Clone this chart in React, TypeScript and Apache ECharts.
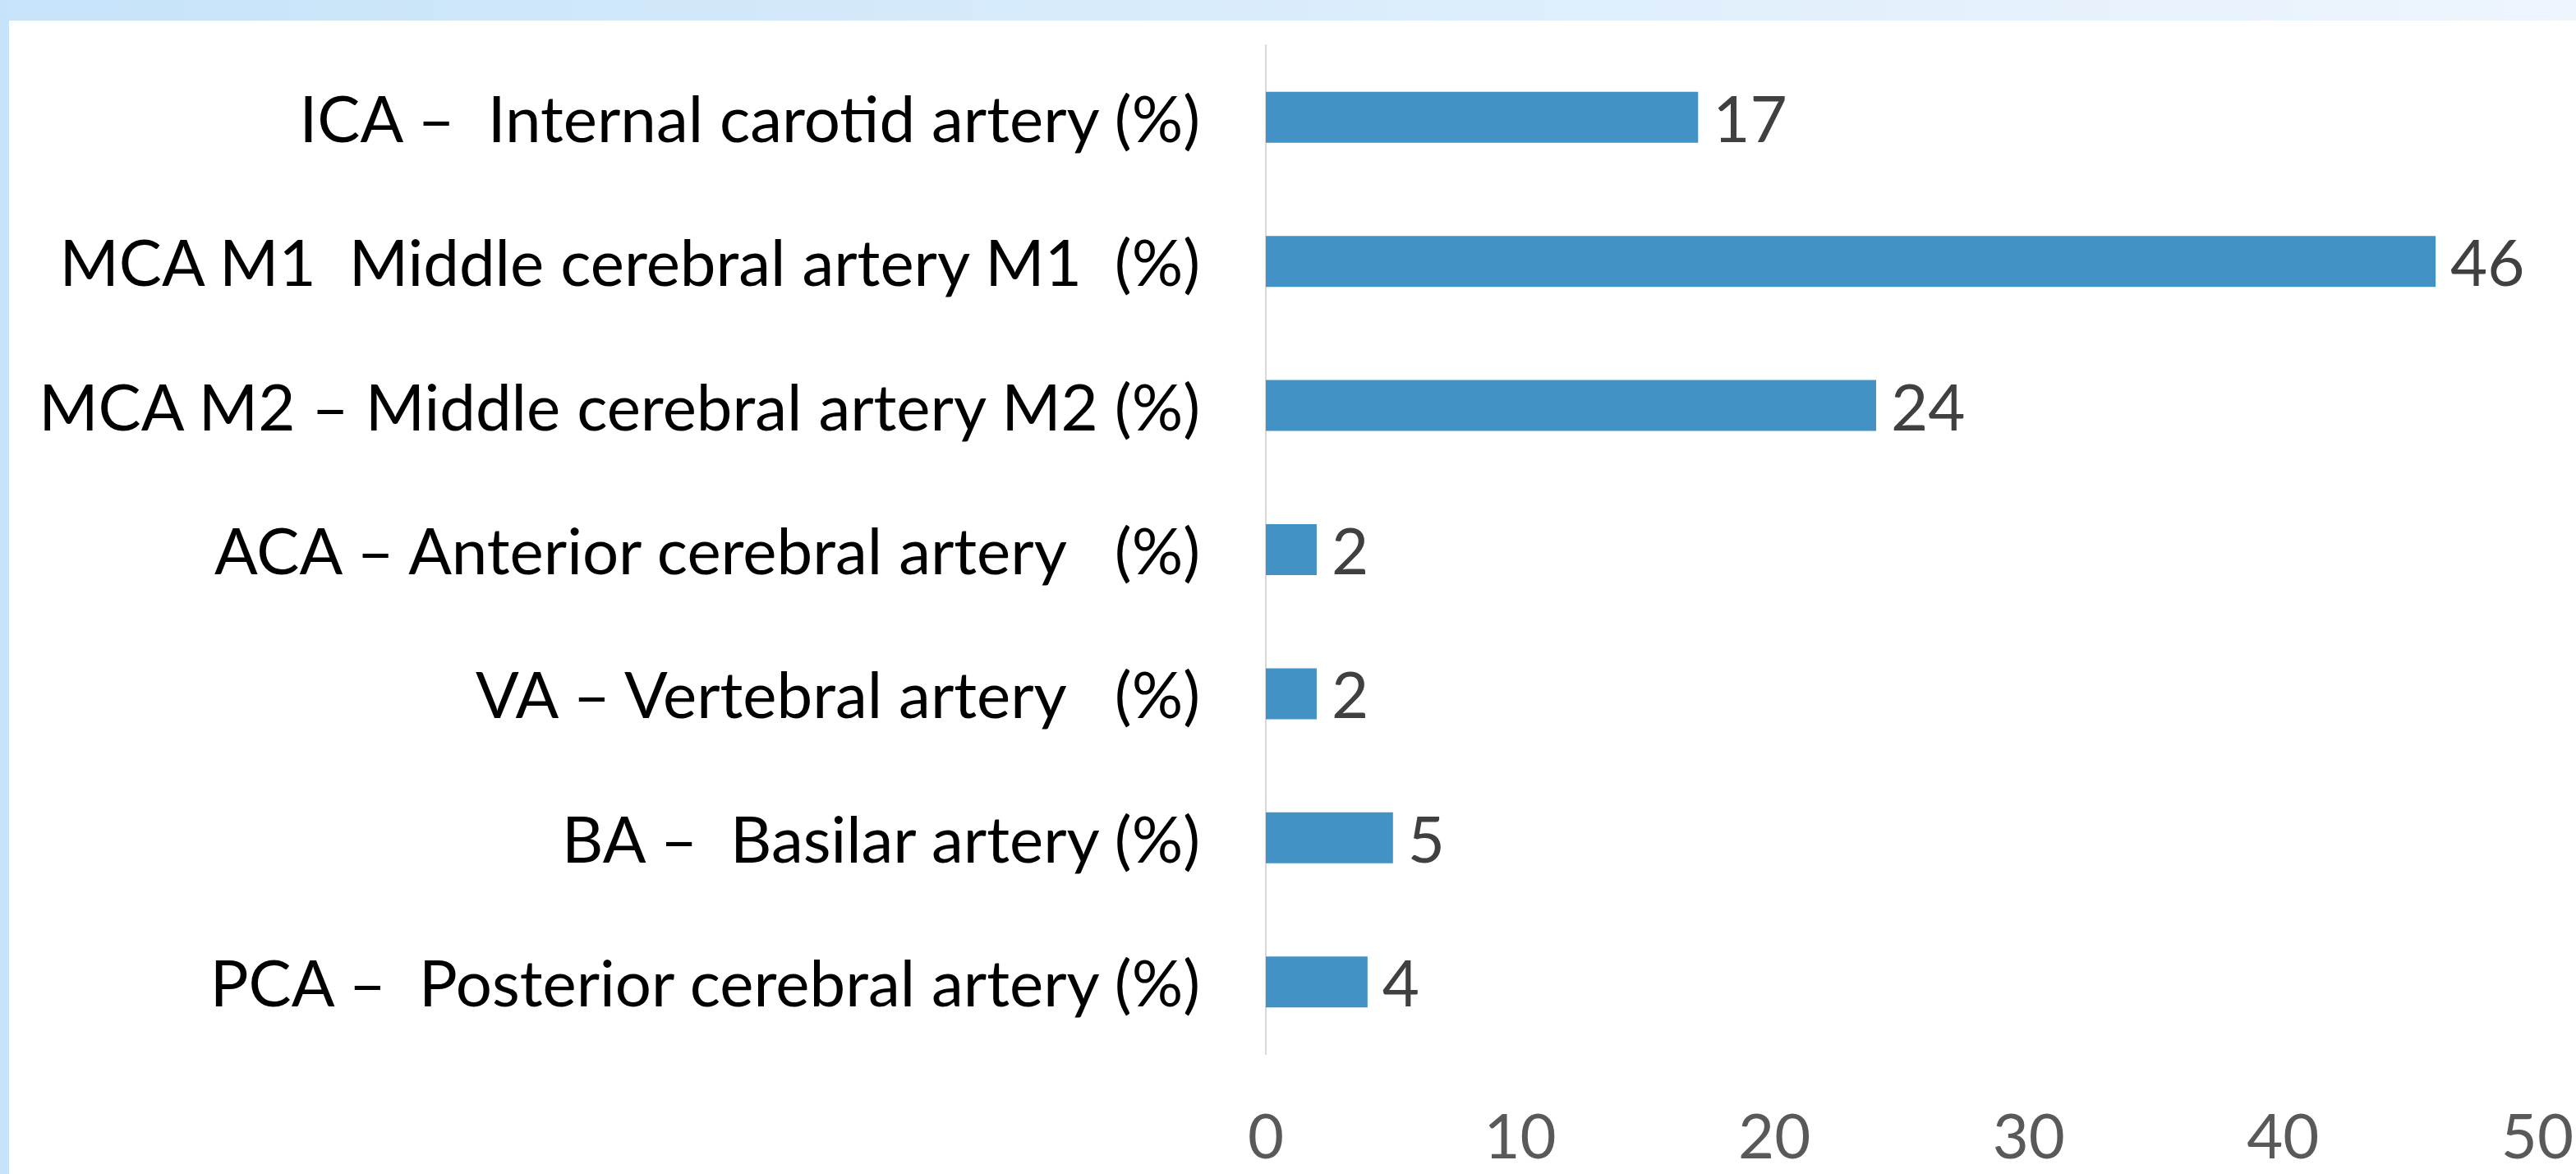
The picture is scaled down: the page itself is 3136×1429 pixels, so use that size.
import React, { useEffect, useRef } from "react";
import * as echarts from "echarts";

const categories: string[] = [
  "ICA –  Internal carotid artery (%)",
  "MCA M1  Middle cerebral artery M1  (%)",
  "MCA M2 – Middle cerebral artery M2 (%)",
  "ACA – Anterior cerebral artery   (%)",
  "VA – Vertebral artery   (%)",
  "BA –  Basilar artery (%)",
  "PCA –  Posterior cerebral artery (%)",
];
const values: number[] = [17, 46, 24, 2, 2, 5, 4];
const xTicks: number[] = [0, 10, 20, 30, 40, 50];

const W = 3136;
const H = 1429;
const FONT = "Lato";

export default function App() {
  const ref = useRef<HTMLDivElement>(null);
  useEffect(() => {
    document.body.style.margin = "0";
    if (!ref.current) return;
    const chart = echarts.init(ref.current, undefined, { renderer: "svg" });
    chart.setOption({
      animation: false,
      backgroundColor: "#ffffff",
      graphic: [
        {
          type: "rect",
          left: 0,
          top: 0,
          shape: { width: W, height: 25 },
          style: {
            fill: new echarts.graphic.LinearGradient(0, 0, 1, 0, [
              { offset: 0, color: "#c6e3f9" },
              { offset: 1, color: "#eef5fd" },
            ]),
          },
          silent: true,
        },
        {
          type: "rect",
          left: 0,
          top: 0,
          shape: { width: 11, height: H },
          style: { fill: "#c6e3f9" },
          silent: true,
        },
      ],
      grid: { left: 1541, right: 46, top: 55, bottom: 146, containLabel: false },
      xAxis: {
        type: "value",
        min: xTicks[0],
        max: xTicks[xTicks.length - 1],
        interval: xTicks[1] - xTicks[0],
        axisLine: { show: false },
        axisTick: { show: false },
        splitLine: { show: false },
        axisLabel: {
          color: "#595959",
          fontSize: 76,
          lineHeight: 56,
          fontFamily: FONT,
          margin: 69,
        },
      },
      yAxis: {
        type: "category",
        data: categories,
        inverse: true,
        axisLine: { show: true, lineStyle: { color: "#d9d9d9", width: 2 } },
        axisTick: { show: false },
        axisLabel: {
          color: "#000000",
          fontSize: 78,
          fontFamily: FONT,
          margin: 80,
        },
      },
      series: [
        {
          type: "bar",
          data: values,
          barWidth: 62,
          itemStyle: { color: "#4292c6" },
          label: {
            show: true,
            position: "right",
            distance: 18,
            color: "#404040",
            fontSize: 78,
            fontFamily: FONT,
          },
        },
      ],
    });
    return () => chart.dispose();
  }, []);
  return <div ref={ref} style={{ width: W, height: H }} />;
}
